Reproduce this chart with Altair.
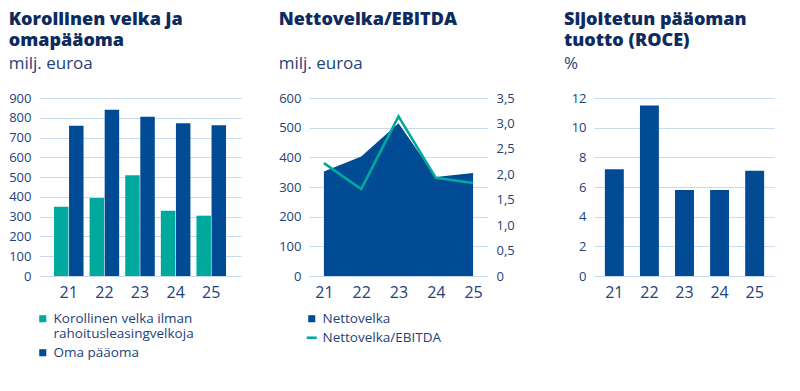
import altair as alt
import pandas as pd

years = ["21", "22", "23", "24", "25"]
debt = [350, 395, 510, 330, 305]
equity = [760, 840, 805, 772, 762]
net_debt = [352, 403, 515, 334, 347]
nd_ebitda = [2.22, 1.71, 3.14, 1.93, 1.83]
roce = [7.2, 11.5, 5.8, 5.8, 7.1]

S_DEBT = "Korollinen velka ilman rahoitusleasingvelkoja"
S_EQ = "Oma pääoma"

BLUE = "#004b93"
TEAL = "#00a99d"
GRID = "#c6dcf0"
LABEL = "#23427a"
TITLE = "#0d2b5e"
FONT = "Open Sans"

df1 = pd.DataFrame({
    "year": years * 2,
    "series": [S_DEBT] * 5 + [S_EQ] * 5,
    "value": debt + equity,
})
df2 = pd.DataFrame({"year": years, "nd": net_debt, "ratio": nd_ebitda,
                    "s1": "Nettovelka", "s2": "Nettovelka/EBITDA"})
df3 = pd.DataFrame({"year": years, "roce": roce})


def title(lines, sub):
    return alt.TitleParams(
        text=lines, subtitle=sub, anchor="start", frame="bounds",
        font=FONT, fontSize=18, fontWeight=800, color=TITLE, lineHeight=21,
        subtitleFont=FONT, subtitleFontSize=17, subtitleColor=LABEL,
        subtitlePadding=6, offset=20,
    )


def yaxis(vals, orient="left", expr=None, ext=30):
    kw = dict(values=vals, title=None, domain=False, ticks=False, grid=orient == "left",
              gridColor=GRID, gridWidth=1.2, labelFont=FONT, labelFontSize=13,
              labelColor=LABEL, labelPadding=8, orient=orient, minExtent=ext, maxExtent=ext)
    if expr:
        kw["labelExpr"] = expr
    return alt.Axis(**kw)


xaxis = alt.Axis(title=None, domain=False, ticks=False, labelAngle=0, labelFont=FONT,
                 labelFontSize=16, labelColor=LABEL, labelPadding=8)

# Panel 1
p1 = alt.Chart(df1).mark_bar().encode(
    x=alt.X("year:N", axis=xaxis, scale=alt.Scale(paddingInner=0.17, paddingOuter=0.42)),
    xOffset=alt.XOffset("series:N", sort=[S_DEBT, S_EQ], scale=alt.Scale(paddingInner=0.04)),
    y=alt.Y("value:Q", axis=yaxis(list(range(0, 901, 100))), scale=alt.Scale(domain=[0, 900])),
    color=alt.Color("series:N", sort=[S_DEBT, S_EQ],
                    scale=alt.Scale(domain=[S_DEBT, S_EQ], range=[TEAL, BLUE]),
                    legend=alt.Legend(
                        title=None, orient="none", legendX=-3, legendY=214,
                        symbolType="square", symbolSize=50, symbolStrokeWidth=0,
                        labelFont=FONT, labelFontSize=13.5, labelColor=LABEL, labelLimit=400,
                        rowPadding=4,
                        labelExpr="datum.label == '" + S_DEBT + "' ? ['Korollinen velka ilman', 'rahoitusleasingvelkoja'] : datum.label",
                    )),
).properties(width=202, height=178,
             title=title(["Korollinen velka ja", "omapääoma"], "milj. euroa"))

# Panel 2
base2 = alt.Chart(df2).encode(
    x=alt.X("year:N", axis=xaxis, scale=alt.Scale(type="point", padding=0.4)))
area = base2.mark_area(color=BLUE).encode(
    y=alt.Y("nd:Q", axis=yaxis(list(range(0, 601, 100))), scale=alt.Scale(domain=[0, 600])),
    fill=alt.Fill("s1:N", scale=alt.Scale(range=[BLUE]),
                  legend=alt.Legend(title=None, orient="none", legendX=-4, legendY=214,
                                    symbolType="square", symbolSize=50, symbolStrokeWidth=0,
                                    labelFont=FONT, labelFontSize=13.5, labelColor=LABEL)),
)
line = base2.mark_line(strokeWidth=2.6).encode(
    y=alt.Y("ratio:Q",
            axis=yaxis([0, 0.5, 1, 1.5, 2, 2.5, 3, 3.5], orient="right",
                       expr="datum.value == 0 ? '0' : replace(format(datum.value, '.1f'), '.', ',')",
                       ext=39),
            scale=alt.Scale(domain=[0, 3.5])),
    stroke=alt.Stroke("s2:N", scale=alt.Scale(range=[TEAL]),
                      legend=alt.Legend(title=None, orient="none", legendX=-4, legendY=233,
                                        symbolType="stroke", symbolSize=100, symbolStrokeWidth=2.6,
                                        labelFont=FONT, labelFontSize=13.5, labelColor=LABEL)),
)
p2 = alt.layer(area, line).resolve_scale(y="independent").properties(
    width=179, height=178, title=title(["Nettovelka/EBITDA", " "], "milj. euroa"))

# Panel 3
p3 = alt.Chart(df3).mark_bar(color=BLUE).encode(
    x=alt.X("year:N", axis=xaxis, scale=alt.Scale(paddingInner=0.46, paddingOuter=0.31)),
    y=alt.Y("roce:Q", axis=yaxis(list(range(0, 13, 2))), scale=alt.Scale(domain=[0, 12])),
).properties(width=181, height=178,
             title=title(["Sijoitetun pääoman", "tuotto (ROCE)"], "%"))

chart = alt.hconcat(p1, p2, p3, spacing=37).resolve_scale(
    color="independent", fill="independent", stroke="independent"
).properties(padding={"left": 0, "top": 3, "right": 0, "bottom": 0}).configure_view(stroke=None)

chart.save("out.html", embed_options={"renderer": "svg", "actions": False})
